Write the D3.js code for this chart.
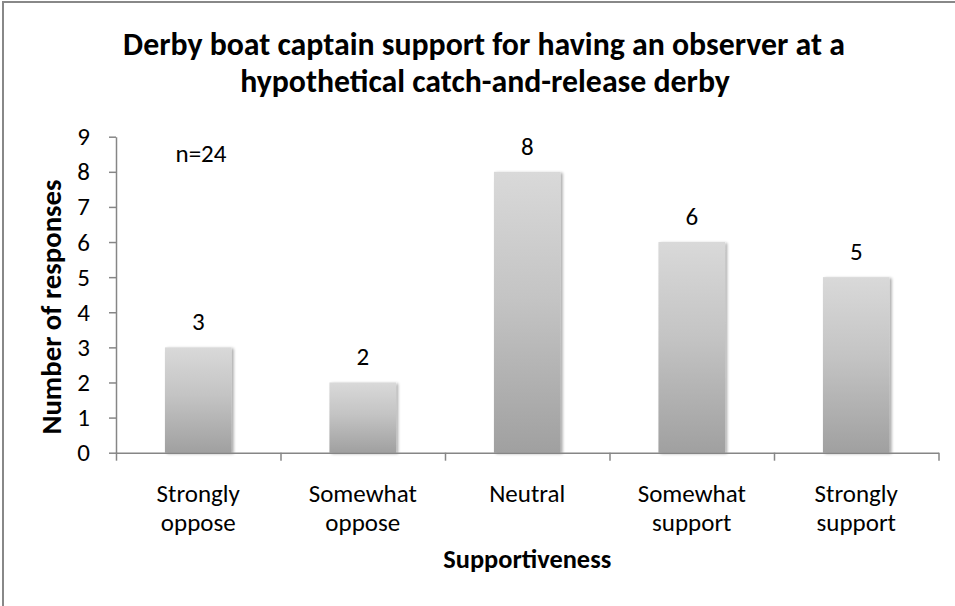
<!DOCTYPE html>
<html>
<head>
<meta charset="utf-8">
<script src="https://cdn.jsdelivr.net/npm/d3@7"></script>
<style>
  html, body { margin: 0; padding: 0; background: #fff; }
  svg { display: block; }
  text { font-family: Calibri, Carlito, Lato, "Open Sans", sans-serif; fill: #000; }
</style>
</head>
<body>
<svg id="chart" width="955" height="606"></svg>
<script>
// Survey responses by supportiveness level
const categories = ["Strongly oppose", "Somewhat oppose", "Neutral", "Somewhat support", "Strongly support"];
const values = [3, 2, 8, 6, 5];
const yTicks = [0, 1, 2, 3, 4, 5, 6, 7, 8, 9];
const titleLines = ["Derby boat captain support for having an observer at a", "hypothetical catch-and-release derby"];
const yTitle = "Number of responses";
const xTitle = "Supportiveness";
const sampleNote = "n=24";

const svg = d3.select("#chart");
const W = 955, H = 606;
const plot = { left: 116, right: 938.5, top: 136.7, bottom: 452.7 };
const labelSize = "25px";

// chart frame
svg.append("rect")
  .attr("x", 3).attr("y", 2)
  .attr("width", W + 10).attr("height", H + 10)
  .attr("fill", "#fff").attr("stroke", "#888").attr("stroke-width", 2);

const defs = svg.append("defs");
const grad = defs.append("linearGradient")
  .attr("id", "barGrad").attr("x1", 0).attr("y1", 0).attr("x2", 0).attr("y2", 1);
grad.append("stop").attr("offset", "0%").attr("stop-color", "#d9d9d9");
grad.append("stop").attr("offset", "45%").attr("stop-color", "#c4c4c4");
grad.append("stop").attr("offset", "100%").attr("stop-color", "#a0a0a0");

const shadow = defs.append("filter").attr("id", "barShadow")
  .attr("x", "-20%").attr("y", "-10%").attr("width", "140%").attr("height", "120%");
shadow.append("feGaussianBlur").attr("in", "SourceAlpha").attr("stdDeviation", 1.6).attr("result", "b");
shadow.append("feOffset").attr("in", "b").attr("dx", 2).attr("dy", 1).attr("result", "o");
shadow.append("feComponentTransfer").attr("in", "o").attr("result", "s")
  .append("feFuncA").attr("type", "linear").attr("slope", 0.35);
const merge = shadow.append("feMerge");
merge.append("feMergeNode").attr("in", "s");
merge.append("feMergeNode").attr("in", "SourceGraphic");

const x = d3.scaleBand().domain(categories).range([plot.left, plot.right]).paddingInner(0).paddingOuter(0);
const y = d3.scaleLinear().domain([0, 9]).range([plot.bottom, plot.top]);
const barFrac = 0.405;

// bars
svg.append("g").selectAll("rect")
  .data(categories.map((c, i) => ({ c, v: values[i] })))
  .join("rect")
  .attr("x", d => x(d.c) + x.bandwidth() * (1 - barFrac) / 2)
  .attr("y", d => y(d.v))
  .attr("width", x.bandwidth() * barFrac)
  .attr("height", d => y(0) - y(d.v))
  .attr("fill", "url(#barGrad)")
  .attr("filter", "url(#barShadow)");

// value labels
svg.append("g").selectAll("text")
  .data(categories.map((c, i) => ({ c, v: values[i] })))
  .join("text")
  .attr("x", d => x(d.c) + x.bandwidth() / 2)
  .attr("y", d => y(d.v) - 17)
  .attr("text-anchor", "middle")
  .style("font-size", labelSize)
  .text(d => d.v);

// y axis
const yAxis = svg.append("g")
  .attr("transform", `translate(${plot.left},0)`)
  .call(d3.axisLeft(y).tickValues(yTicks).tickSize(7).tickSizeOuter(0).tickPadding(19).tickFormat(d3.format("d")));
yAxis.selectAll("text").style("font-size", labelSize).attr("fill", "#000");

// x axis: ticks at category boundaries
const boundaries = categories.map(c => x(c)).concat([plot.right]);
const xb = d3.scaleLinear().domain([plot.left, plot.right]).range([plot.left, plot.right]);
const xAxis = svg.append("g")
  .attr("transform", `translate(0,${plot.bottom})`)
  .call(d3.axisBottom(xb).tickValues(boundaries).tickSize(8).tickSizeOuter(0).tickFormat(""));
[yAxis, xAxis].forEach(a => {
  a.selectAll("path, line").attr("stroke", "#868686").attr("stroke-width", 1.5);
});

// category labels
const catG = svg.append("g");
categories.forEach(c => {
  const sp = c.indexOf(" ");
  const lines = sp < 0 ? [c] : [c.slice(0, sp), c.slice(sp + 1)];
  const t = catG.append("text")
    .attr("text-anchor", "middle")
    .style("font-size", labelSize);
  lines.forEach((ln, k) => {
    t.append("tspan")
      .attr("x", x(c) + x.bandwidth() / 2)
      .attr("y", 502 + k * 29)
      .text(ln);
  });
});

// fit a text element's font size to a target width
function fitWidth(sel, target, base) {
  sel.style("font-size", base + "px");
  const w = sel.node().getComputedTextLength();
  sel.style("font-size", (base * target / w).toFixed(2) + "px");
}

// title
const cx = (plot.left + plot.right) / 2;
const t1 = svg.append("text").attr("x", 484).attr("y", 55).attr("text-anchor", "middle")
  .style("font-weight", "bold").text(titleLines[0]);
fitWidth(t1, 722, 24);
const t2 = svg.append("text").attr("x", 485).attr("y", 92).attr("text-anchor", "middle")
  .style("font-weight", "bold").style("font-size", t1.style("font-size")).text(titleLines[1]);

// axis titles
const xt = svg.append("text").attr("x", cx).attr("y", 568).attr("text-anchor", "middle")
  .style("font-weight", "bold").text(xTitle);
fitWidth(xt, 168, 20);
const yt = svg.append("text").attr("transform", `translate(61,307) rotate(-90)`).attr("text-anchor", "middle")
  .style("font-weight", "bold").text(yTitle);
fitWidth(yt, 255, 20);

// sample size note
svg.append("text").attr("x", 201).attr("y", 162).attr("text-anchor", "middle")
  .style("font-size", labelSize).text(sampleNote);
</script>
</body>
</html>
